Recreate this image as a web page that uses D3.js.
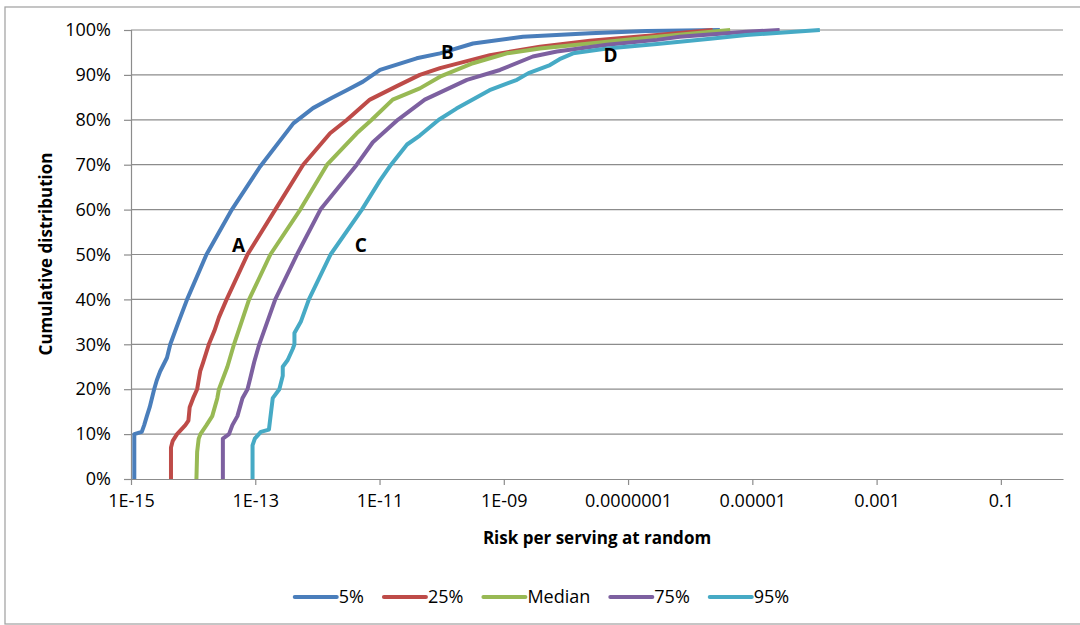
<!DOCTYPE html>
<html><head><meta charset="utf-8">
<script src="https://cdn.jsdelivr.net/npm/d3@7"></script>
<style>
html,body{margin:0;padding:0;background:#fff;}
svg text{font-family:"Open Sans","Noto Sans",sans-serif;fill:#000;}
</style></head>
<body><svg id="chart" width="1080" height="625"></svg>
<script>
// ---------- data ----------
const seriesNames = ["5%", "25%", "Median", "75%", "95%"];
const seriesColors = ["#4A7EBB", "#BE4B48", "#98B954", "#7D60A0", "#46AAC5"];

// [risk per serving, cumulative fraction]
const p05 = [[1.13e-15,0],[1.13e-15,0.10],[1.49e-15,0.105],[1.63e-15,0.12],[1.80e-15,0.14],[2.0e-15,0.16],[2.36e-15,0.20],[2.6e-15,0.22],[2.95e-15,0.24],[3.79e-15,0.27],[4.29e-15,0.30],[5.83e-15,0.35],[8.0e-15,0.40],[1.64e-14,0.50],[4.2e-14,0.60],[1.2e-13,0.696],[4.1e-13,0.792],[8.5e-13,0.826],[1.72e-12,0.849],[2.96e-12,0.866],[5.42e-12,0.885],[1.02e-11,0.911],[3.96e-11,0.937],[9.4e-11,0.948],[3.19e-10,0.97],[2.03e-9,0.985],[2.44e-8,0.993],[2.0e-7,0.998],[3.0e-6,1.0]];
const p25 = [[4.40e-15,0],[4.40e-15,0.07],[4.7e-15,0.085],[5.51e-15,0.10],[7.5e-15,0.12],[8.4e-15,0.13],[8.8e-15,0.16],[1.0e-14,0.18],[1.16e-14,0.20],[1.3e-14,0.24],[1.45e-14,0.26],[1.79e-14,0.30],[2.2e-14,0.33],[2.6e-14,0.36],[3.46e-14,0.40],[7.5e-14,0.50],[2.1e-13,0.60],[5.9e-13,0.70],[1.6e-12,0.77],[3.0e-12,0.80],[7.0e-12,0.845],[1.9e-11,0.875],[4.45e-11,0.90],[9.4e-11,0.915],[5.98e-10,0.944],[3.82e-9,0.963],[2.44e-8,0.976],[2.92e-7,0.989],[2.3e-6,1.0]];
const p50 = [[1.13e-14,0],[1.16e-14,0.06],[1.23e-14,0.09],[1.31e-14,0.10],[1.64e-14,0.12],[2.03e-14,0.14],[2.45e-14,0.18],[2.6e-14,0.20],[3.56e-14,0.25],[4.55e-14,0.30],[7.96e-14,0.40],[1.75e-13,0.50],[5.3e-13,0.60],[1.43e-12,0.70],[4.3e-12,0.77],[7.5e-12,0.80],[1.63e-11,0.845],[4.45e-11,0.87],[9.4e-11,0.896],[3.19e-10,0.926],[1.12e-9,0.948],[3.82e-9,0.959],[4.57e-8,0.974],[2.92e-7,0.985],[4.4e-6,1.0]];
const p75 = [[3.01e-14,0],[3.01e-14,0.09],[3.78e-14,0.10],[4.28e-14,0.12],[5.16e-14,0.14],[6.22e-14,0.18],[7.5e-14,0.20],[8.5e-14,0.23],[9.59e-14,0.26],[1.16e-13,0.30],[2.1e-13,0.40],[4.7e-13,0.50],[1.12e-12,0.60],[4.3e-12,0.70],[7.8e-12,0.75],[1.97e-11,0.80],[5.35e-11,0.845],[2.55e-10,0.889],[8.67e-10,0.911],[2.94e-9,0.941],[7.16e-9,0.952],[4.57e-8,0.967],[2.92e-7,0.978],[6.8e-7,0.985],[8.0e-6,0.996],[2.75e-5,1.0]];
const p95 = [[9.04e-14,0],[9.04e-14,0.075],[9.84e-14,0.09],[1.23e-13,0.105],[1.66e-13,0.11],[1.91e-13,0.18],[2.44e-13,0.20],[2.77e-13,0.23],[2.77e-13,0.25],[3.33e-13,0.265],[4.02e-13,0.29],[4.27e-13,0.30],[4.27e-13,0.325],[5.4e-13,0.35],[7.3e-13,0.40],[1.63e-12,0.50],[5.2e-12,0.60],[1.02e-11,0.665],[1.53e-11,0.70],[2.77e-11,0.745],[4.45e-11,0.765],[9.0e-11,0.80],[1.73e-10,0.825],[5.9e-10,0.866],[1.63e-9,0.889],[2.5e-9,0.904],[5.53e-9,0.922],[7.9e-9,0.935],[1.30e-8,0.948],[4.57e-8,0.959],[2.92e-7,0.969],[2.3e-6,0.981],[8.0e-6,0.989],[1.22e-4,1.0]];
const seriesData = [p05, p25, p50, p75, p95];

const xTickValues = [1e-15, 1e-13, 1e-11, 1e-9, 1e-7, 1e-5, 1e-3, 1e-1];
const xTickLabels = ["1E-15", "1E-13", "1E-11", "1E-09", "0.0000001", "0.00001", "0.001", "0.1"];
const yTickValues = [0, 0.1, 0.2, 0.3, 0.4, 0.5, 0.6, 0.7, 0.8, 0.9, 1.0];
const yTickLabels = ["0%", "10%", "20%", "30%", "40%", "50%", "60%", "70%", "80%", "90%", "100%"];

const annotationLabels = ["A", "B", "C", "D"];
const annotationRisk = [5.4e-14, 1.24e-10, 5.0e-12, 5.2e-8];
const annotationCum = [0.521, 0.951, 0.521, 0.944];

const xTitle = "Risk per serving at random";
const yTitle = "Cumulative distribution";

// ---------- drawing ----------
const svg = d3.select("#chart");
const plotL = 131, plotR = 1063, plotT = 30, plotB = 479;
const x = d3.scaleLog().domain([1e-15, 1]).range([plotL, plotR]);
const y = d3.scaleLinear().domain([0, 1]).range([plotB, plotT]);

// outer frame
svg.append("rect").attr("x", 5).attr("y", 7).attr("width", 1100).attr("height", 617)
  .attr("fill", "none").attr("stroke", "#a6a6a6").attr("stroke-width", 1.3);

// gridlines
svg.append("g").selectAll("line").data(yTickValues.slice(1)).join("line")
  .attr("x1", plotL).attr("x2", plotR)
  .attr("y1", d => y(d)).attr("y2", d => y(d))
  .attr("stroke", "#8c8c8c").attr("stroke-width", 1.2);

// y axis
const yAxis = d3.axisLeft(y).tickValues(yTickValues).tickFormat((d, i) => yTickLabels[i]).tickSize(7).tickPadding(13);
const gy = svg.append("g").attr("transform", `translate(${plotL},0)`).call(yAxis);
gy.select(".domain").attr("stroke", "#8c8c8c").attr("stroke-width", 1.2);
gy.selectAll(".tick line").attr("stroke", "#8c8c8c").attr("stroke-width", 1.2);
gy.selectAll(".tick text").attr("font-size", 18).attr("font-family", "Open Sans").attr("fill", "#000");

// x axis
const xAxis = d3.axisBottom(x).tickValues(xTickValues).tickFormat((d, i) => xTickLabels[i]).tickSize(6).tickPadding(9).tickSizeOuter(0);
const gx = svg.append("g").attr("transform", `translate(0,${plotB})`).call(xAxis);
gx.select(".domain").attr("stroke", "#8c8c8c").attr("stroke-width", 1.2);
gx.selectAll(".tick line").attr("stroke", "#8c8c8c").attr("stroke-width", 1.2);
gx.selectAll(".tick text").attr("font-size", 18).attr("font-family", "Open Sans").attr("fill", "#000");

// series lines
const line = d3.line().x(d => x(d[0])).y(d => y(d[1]));
svg.append("g").selectAll("path").data(seriesData).join("path")
  .attr("d", line).attr("fill", "none")
  .attr("stroke", (d, i) => seriesColors[i]).attr("stroke-width", 4)
  .attr("stroke-linejoin", "round").attr("stroke-linecap", "butt");

// annotations
svg.append("g").selectAll("text").data(annotationLabels).join("text")
  .attr("x", (d, i) => x(annotationRisk[i])).attr("y", (d, i) => y(annotationCum[i]))
  .attr("dy", "0.36em").attr("text-anchor", "middle")
  .attr("font-size", 19).attr("font-weight", "bold").text(d => d);

// axis titles
svg.append("text").attr("x", (plotL + plotR) / 2).attr("y", 544).attr("text-anchor", "middle")
  .attr("font-size", 17).attr("font-weight", "bold").text(xTitle);
svg.append("text").attr("transform", "translate(52,254) rotate(-90)").attr("text-anchor", "middle")
  .attr("font-size", 17).attr("font-weight", "bold").text(yTitle);

// legend
const lg = svg.append("g");
const items = lg.selectAll("g").data(seriesNames).join("g");
items.append("line").attr("x1", 0).attr("x2", 42).attr("y1", 0).attr("y2", 0)
  .attr("stroke", (d, i) => seriesColors[i]).attr("stroke-width", 4).attr("stroke-linecap", "round");
items.append("text").attr("x", 44).attr("dy", "0.35em").attr("font-size", 18).text(d => d);
let cx = 0;
items.each(function() {
  const w = 44 + this.querySelector("text").getComputedTextLength();
  d3.select(this).attr("transform", `translate(${cx},0)`);
  cx += w + 20;
});
const totalW = cx - 20;
lg.attr("transform", `translate(${542 - totalW / 2},597)`);
</script></body></html>
